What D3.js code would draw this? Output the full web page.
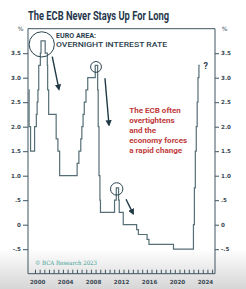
<!DOCTYPE html>
<html><head><meta charset="utf-8">
<script src="https://cdn.jsdelivr.net/npm/d3@7"></script>
<style>html,body{margin:0;padding:0;background:#fff;}svg{display:block;}</style>
</head><body>
<script>
// ECB deposit facility rate (step changes)
const dates = ["1999-01-01","1999-01-22","1999-04-09","1999-11-05","2000-02-04","2000-03-17","2000-04-28","2000-06-09","2000-09-01","2000-10-06","2001-05-11","2001-08-31","2001-09-18","2001-11-09","2002-12-06","2003-03-07","2003-06-06","2005-12-06","2006-03-08","2006-06-15","2006-08-09","2006-10-11","2006-12-13","2007-03-14","2007-06-13","2008-07-09","2008-11-12","2008-12-10","2009-01-21","2009-03-11","2009-04-08","2011-04-13","2011-07-13","2011-11-09","2011-12-14","2012-07-11","2014-06-11","2014-09-10","2015-12-09","2016-03-16","2019-09-18","2022-07-27","2022-09-14","2022-11-02","2022-12-21","2023-02-08","2023-03-22","2023-05-10","2023-06-20"];
const rates = [2.75,2.00,1.50,2.00,2.25,2.50,2.75,3.25,3.50,3.75,3.50,3.25,2.75,2.25,1.75,1.50,1.00,1.25,1.50,1.75,2.00,2.25,2.50,2.75,3.00,3.25,2.75,2.00,1.00,0.50,0.25,0.50,0.75,0.50,0.25,0.00,-0.10,-0.20,-0.30,-0.40,-0.50,0.00,0.75,1.50,2.00,2.50,3.00,3.25,3.25];
const yTickValues = [3.5,3.0,2.5,2.0,1.5,1.0,0.5,0,-0.5];
const yTickLabels = ["3.5","3.0","2.5","2.0","1.5","1.0",".5","0","-.5"];
const yearLabels = [2000,2004,2008,2012,2016,2020,2024];
const noteLines = ["The ECB often","overtightens","and the","economy forces","a rapid change"];
// annotation anchors in data space (decimal year, rate)
const circleAnchors = [{t:2000.87,v:3.68,r:12.6},{t:2008.63,v:3.22,r:5.4},{t:2011.59,v:0.73,r:6.2}];
const arrowAnchors = [{t0:2002.37,v0:3.43,t1:2003.33,v1:2.76},{t0:2009.91,v0:2.99,t1:2010.49,v1:2.03},{t0:2012.92,v0:0.52,t1:2013.96,v1:0.22}];

const W=246,H=289;
const parse=d3.utcParse("%Y-%m-%d");
const yd = y => new Date(Date.UTC(Math.floor(y),0,1) + (y-Math.floor(y))*365.25*864e5);
const data = dates.map((d,i)=>({date:parse(d),v:rates[i]}));

const svg=d3.select("body").append("svg").attr("width",W).attr("height",H);
const defs=svg.append("defs");
const g=defs.append("linearGradient").attr("id","bg").attr("x1",0).attr("y1",0).attr("x2",0).attr("y2",1);
g.append("stop").attr("offset","0").attr("stop-color","#ffffff");
g.append("stop").attr("offset","0.86").attr("stop-color","#ffffff");
g.append("stop").attr("offset","1").attr("stop-color","#d6d6d6");
const mk=defs.append("marker").attr("id","ah").attr("viewBox","0 0 10 10").attr("refX",8).attr("refY",5)
  .attr("markerWidth",4.5).attr("markerHeight",4.5).attr("orient","auto");
mk.append("path").attr("d","M0,0L10,5L0,10z").attr("fill","#1f3a46");
svg.append("rect").attr("width",W).attr("height",H).attr("fill","url(#bg)");

const x=d3.scaleUtc().domain([yd(1998.9),yd(2025.65)]).range([28,215]);
const y=d3.scaleLinear().domain([-1,4]).range([273.7,28.7]);
const axisColor="#3e5661", txt="#3b4a55";

// title
svg.append("text").attr("x",28).attr("y",20).attr("font-family","Roboto, 'Liberation Sans', sans-serif")
  .attr("font-weight",700).attr("font-size",12).attr("fill","#25374b")
  .attr("textLength",141).attr("lengthAdjust","spacingAndGlyphs").text("The ECB Never Stays Up For Long");

// frame
const [x0,x1]=x.range(), [yb,yt]=y.range();
svg.append("path").attr("d",`M${x0},${yb}V${yt}H${x1}V${yb}H${x0}`).attr("fill","none").attr("stroke",axisColor).attr("stroke-width",1);

// y axes
const left=svg.append("g").attr("transform",`translate(${x0},0)`)
  .call(d3.axisLeft(y).tickValues(yTickValues).tickFormat((d,i)=>yTickLabels[i]).tickSize(5).tickPadding(2));
const right=svg.append("g").attr("transform",`translate(${x1},0)`)
  .call(d3.axisRight(y).tickValues(yTickValues).tickFormat((d,i)=>yTickLabels[i]).tickSize(4).tickPadding(2));
[left,right].forEach(a=>{
  a.select(".domain").remove();
  a.selectAll(".tick line").attr("stroke",axisColor);
  a.selectAll("text").attr("font-family","'DejaVu Sans', sans-serif").attr("font-weight",700).attr("font-size",5.6).attr("fill",txt);
});
svg.append("text").attr("x",20.5).attr("y",31).attr("text-anchor","middle").attr("font-family","'DejaVu Sans', sans-serif").attr("font-size",6).attr("fill",txt).text("%");
svg.append("text").attr("x",224.5).attr("y",31).attr("text-anchor","middle").attr("font-family","'DejaVu Sans', sans-serif").attr("font-size",6).attr("fill",txt).text("%");

// x axis ticks (inside) and year labels
const tickYears=d3.range(0,39).map(k=>yd(1999.9+k*2/3));
const bottom=svg.append("g").attr("transform",`translate(0,${yb})`)
  .call(d3.axisBottom(x).tickValues(tickYears).tickFormat("").tickSize(-4));
bottom.select(".domain").remove();
bottom.selectAll(".tick line").attr("stroke",axisColor);
svg.append("g").selectAll("text").data(yearLabels).join("text")
  .attr("x",d=>x(yd(d))+2).attr("y",283.5).attr("text-anchor","middle")
  .attr("font-family","'DejaVu Sans', sans-serif").attr("font-weight",700).attr("font-size",5.6).attr("fill",txt).text(d=>d);

// data line
const line=d3.line().x(d=>x(d.date)).y(d=>y(d.v)).curve(d3.curveStepAfter);
svg.append("path").datum(data).attr("d",line).attr("fill","none").attr("stroke","#566f76").attr("stroke-width",1.2);

// series label
svg.append("text").attr("x",56).attr("y",37.5).attr("font-family","Roboto, sans-serif").attr("font-weight",700)
  .attr("font-size",6.6).attr("fill","#2a3d4e").attr("textLength",40).attr("lengthAdjust","spacingAndGlyphs").text("EURO AREA:");
svg.append("text").attr("x",56).attr("y",46.7).attr("font-family","Roboto, sans-serif").attr("font-weight",500)
  .attr("font-size",6.6).attr("fill","#2a3d4e").attr("textLength",111).attr("lengthAdjust","spacingAndGlyphs").text("OVERNIGHT INTEREST RATE");

// circles and arrows
svg.append("g").selectAll("circle").data(circleAnchors).join("circle")
  .attr("cx",d=>x(yd(d.t))).attr("cy",d=>y(d.v)).attr("r",d=>d.r)
  .attr("fill","none").attr("stroke","#2b4450").attr("stroke-width",1);
svg.append("g").selectAll("line").data(arrowAnchors).join("line")
  .attr("x1",d=>x(yd(d.t0))).attr("y1",d=>y(d.v0)).attr("x2",d=>x(yd(d.t1))).attr("y2",d=>y(d.v1))
  .attr("stroke","#1f3a46").attr("stroke-width",1.4).attr("marker-end","url(#ah)");

// red note
svg.append("g").selectAll("text").data(noteLines).join("text")
  .attr("x",129.3).attr("y",(d,i)=>113.3+i*9.85)
  .attr("font-family","Roboto, sans-serif").attr("font-weight",700).attr("font-size",8).attr("fill","#c03a3a").text(d=>d);

// question mark
svg.append("text").attr("x",x(yd(2024.32))).attr("y",y(3.18)).attr("text-anchor","middle")
  .attr("font-family","Roboto, sans-serif").attr("font-weight",700).attr("font-size",9).attr("fill","#2b3d4d").text("?");

// source
svg.append("text").attr("x",35).attr("y",265).attr("font-family","'DejaVu Serif', 'Liberation Serif', serif")
  .attr("font-size",6).attr("fill","#3a9e93").attr("textLength",62).attr("lengthAdjust","spacingAndGlyphs").text("© BCA Research 2023");
</script>
</body></html>
